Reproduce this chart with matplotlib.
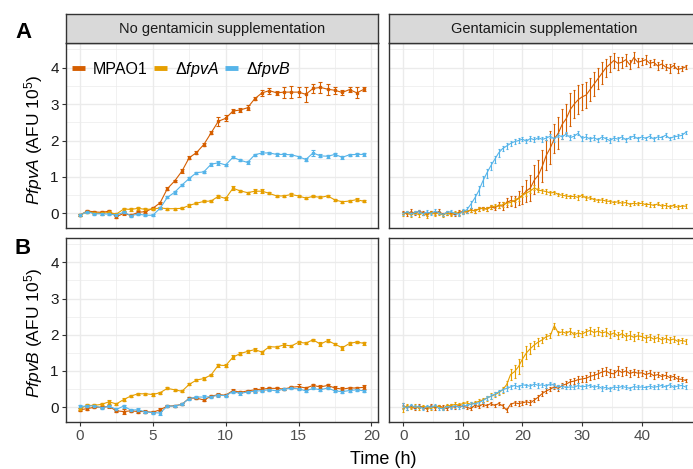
import numpy as np
import matplotlib.pyplot as plt
from matplotlib.lines import Line2D

plt.rcParams['font.family'] = ['Liberation Sans', 'DejaVu Sans']
plt.rcParams['mathtext.fontset'] = 'custom'
plt.rcParams['mathtext.rm'] = 'Liberation Sans'
plt.rcParams['mathtext.it'] = 'Liberation Sans:italic'

strains = ['MPAO1', 'fpvA', 'fpvB']
colors = {'MPAO1': '#D55E00', 'fpvA': '#E69F00', 'fpvB': '#56B4E9'}
labels = {'MPAO1': 'MPAO1', 'fpvA': r'$\mathit{ΔfpvA}$', 'fpvB': r'$\mathit{ΔfpvB}$'}

# time points (h)
time_nogent = np.arange(40) * 0.5        # every 30 min, 0 .. 19.5
time_gent = np.arange(72) * 40 / 60      # every 40 min, 0 .. 47.3

# ---- PfpvA, no gentamicin ----
pa_nogent = {
    'MPAO1': [-0.05, 0.07, 0.04, 0.03, 0.06, -0.09, 0.0, -0.05, 0.03, 0.05,
              0.14, 0.29, 0.68, 0.89, 1.16, 1.53, 1.67, 1.89, 2.21, 2.53,
              2.61, 2.81, 2.84, 2.9, 3.15, 3.31, 3.37, 3.31, 3.33, 3.33,
              3.33, 3.27, 3.43, 3.46, 3.41, 3.38, 3.32, 3.40, 3.31, 3.41],
    'fpvA': [-0.05, 0.05, 0.01, 0.0, 0.03, -0.02, 0.12, 0.11, 0.14, 0.11,
             0.12, 0.15, 0.13, 0.13, 0.14, 0.22, 0.28, 0.33, 0.34, 0.47,
             0.41, 0.69, 0.62, 0.57, 0.61, 0.61, 0.55, 0.48, 0.48, 0.52,
             0.48, 0.42, 0.47, 0.44, 0.48, 0.37, 0.32, 0.34, 0.38, 0.33],
    'fpvB': [-0.05, 0.05, -0.01, -0.01, -0.02, -0.04, 0.03, -0.06, -0.02, -0.05,
             -0.05, 0.14, 0.44, 0.58, 0.78, 0.96, 1.12, 1.14, 1.35, 1.39,
             1.33, 1.54, 1.46, 1.40, 1.61, 1.66, 1.66, 1.62, 1.62, 1.61,
             1.56, 1.48, 1.66, 1.58, 1.57, 1.62, 1.54, 1.61, 1.62, 1.62],
}
pa_nogent_err = {
    'MPAO1': [0.03, 0.03, 0.04, 0.03, 0.03, 0.03, 0.03, 0.03, 0.03, 0.03,
              0.03, 0.03, 0.05, 0.04, 0.05, 0.04, 0.04, 0.05, 0.04, 0.12,
              0.08, 0.06, 0.05, 0.07, 0.05, 0.08, 0.08, 0.05, 0.15, 0.16,
              0.14, 0.2, 0.12, 0.15, 0.15, 0.1, 0.08, 0.08, 0.15, 0.05],
    'fpvA': [0.03, 0.03, 0.03, 0.03, 0.03, 0.03, 0.04, 0.05, 0.04, 0.05,
             0.03, 0.03, 0.03, 0.03, 0.03, 0.04, 0.03, 0.03, 0.03, 0.04,
             0.04, 0.05, 0.03, 0.03, 0.06, 0.05, 0.03, 0.03, 0.03, 0.03,
             0.03, 0.03, 0.03, 0.03, 0.03, 0.03, 0.03, 0.03, 0.05, 0.03],
    'fpvB': [0.03, 0.03, 0.03, 0.03, 0.03, 0.03, 0.03, 0.03, 0.03, 0.03,
             0.03, 0.03, 0.03, 0.04, 0.03, 0.03, 0.03, 0.03, 0.04, 0.05,
             0.03, 0.03, 0.03, 0.05, 0.03, 0.04, 0.03, 0.03, 0.03, 0.03,
             0.03, 0.05, 0.08, 0.04, 0.04, 0.03, 0.04, 0.03, 0.03, 0.03],
}

# ---- PfpvA, gentamicin ----
pa_gent = {
    'MPAO1': [0.03, -0.02, 0.05, 0.0, 0.06, 0.02, -0.03, 0.04, 0.0, 0.05, -0.02, 0.02,
              0.0, -0.03, 0.03, 0.05, 0.04, 0.1, 0.07, 0.12, 0.15, 0.12, 0.18, 0.15,
              0.22, 0.2, 0.3, 0.35, 0.33, 0.42, 0.5, 0.62, 0.7, 0.92, 1.05, 1.3,
              1.6, 1.8, 2.05, 2.2, 2.45, 2.6, 2.85, 3.0, 3.12, 3.2, 3.25, 3.4,
              3.55, 3.7, 3.85, 4.0, 4.1, 4.2, 4.12, 4.15, 4.22, 4.08, 4.28, 4.15,
              4.18, 4.22, 4.12, 4.15, 4.05, 4.1, 4.02, 3.98, 4.06, 3.95, 3.98, 4.02],
    'fpvA': [-0.02, 0.03, -0.05, 0.02, -0.04, 0.01, -0.06, 0.03, -0.02, 0.02, -0.05, 0.01,
             -0.03, 0.02, 0.0, 0.04, 0.05, 0.09, 0.07, 0.12, 0.14, 0.12, 0.17, 0.2,
             0.2, 0.24, 0.28, 0.3, 0.36, 0.4, 0.5, 0.56, 0.62, 0.7, 0.64, 0.62,
             0.6, 0.56, 0.58, 0.52, 0.5, 0.48, 0.46, 0.47, 0.44, 0.5, 0.42, 0.43,
             0.38, 0.36, 0.37, 0.34, 0.33, 0.3, 0.32, 0.28, 0.3, 0.25, 0.28, 0.26,
             0.28, 0.24, 0.25, 0.22, 0.26, 0.2, 0.22, 0.18, 0.22, 0.17, 0.2, 0.2],
    'fpvB': [0.0, 0.04, -0.02, 0.03, 0.05, -0.01, 0.04, 0.0, 0.06, 0.02, -0.03, 0.03,
             0.05, 0.0, -0.02, 0.05, 0.1, 0.25, 0.42, 0.62, 0.88, 1.1, 1.3, 1.48,
             1.66, 1.78, 1.85, 1.92, 1.97, 2.0, 2.04, 1.98, 2.06, 2.02, 2.08, 2.03,
             2.07, 2.12, 2.04, 2.15, 2.1, 2.18, 2.08, 2.12, 2.2, 2.06, 2.1, 2.04,
             2.08, 2.02, 2.1, 2.05, 2.0, 2.07, 2.04, 2.1, 2.02, 2.08, 2.12, 2.05,
             2.1, 2.06, 2.12, 2.04, 2.1, 2.08, 2.15, 2.06, 2.1, 2.12, 2.14, 2.22],
}
pa_gent_err = {
    'MPAO1': [0.05, 0.04, 0.06, 0.05, 0.04, 0.06, 0.05, 0.04, 0.05, 0.06, 0.04, 0.05,
              0.05, 0.04, 0.06, 0.05, 0.04, 0.05, 0.06, 0.05, 0.04, 0.06, 0.05, 0.06,
              0.08, 0.1, 0.12, 0.14, 0.16, 0.2, 0.25, 0.3, 0.35, 0.4, 0.42, 0.45,
              0.42, 0.45, 0.4, 0.44, 0.42, 0.4, 0.45, 0.38, 0.4, 0.35, 0.36, 0.32,
              0.32, 0.28, 0.3, 0.25, 0.22, 0.2, 0.18, 0.15, 0.16, 0.12, 0.14, 0.12,
              0.1, 0.12, 0.1, 0.08, 0.12, 0.1, 0.09, 0.12, 0.08, 0.1, 0.08, 0.06],
    'fpvA': [0.05, 0.04, 0.06, 0.04, 0.05, 0.04, 0.06, 0.05, 0.04, 0.05, 0.06, 0.04,
             0.05, 0.04, 0.06, 0.05, 0.04, 0.05, 0.06, 0.05, 0.04, 0.05, 0.06, 0.05,
             0.05, 0.06, 0.05, 0.07, 0.06, 0.07, 0.06, 0.07, 0.06, 0.07, 0.06, 0.05,
             0.06, 0.05, 0.04, 0.05, 0.06, 0.05, 0.04, 0.05, 0.06, 0.04, 0.05, 0.04,
             0.05, 0.04, 0.05, 0.06, 0.04, 0.05, 0.04, 0.05, 0.06, 0.04, 0.05, 0.04,
             0.05, 0.04, 0.06, 0.05, 0.04, 0.05, 0.06, 0.04, 0.05, 0.06, 0.04, 0.05],
    'fpvB': [0.05, 0.04, 0.05, 0.04, 0.05, 0.04, 0.05, 0.04, 0.05, 0.04, 0.05, 0.04,
             0.05, 0.04, 0.05, 0.06, 0.08, 0.1, 0.12, 0.12, 0.14, 0.12, 0.12, 0.1,
             0.1, 0.08, 0.08, 0.07, 0.06, 0.07, 0.06, 0.05, 0.06, 0.07, 0.05, 0.06,
             0.05, 0.06, 0.07, 0.05, 0.06, 0.05, 0.07, 0.06, 0.05, 0.06, 0.07, 0.05,
             0.06, 0.05, 0.06, 0.05, 0.06, 0.05, 0.06, 0.05, 0.06, 0.05, 0.06, 0.05,
             0.06, 0.05, 0.06, 0.05, 0.06, 0.05, 0.06, 0.05, 0.06, 0.05, 0.06, 0.05],
}

# ---- PfpvB, no gentamicin ----
pb_nogent = {
    'MPAO1': [-0.07, -0.04, 0.0, 0.0, 0.02, -0.1, -0.12, -0.1, -0.12, -0.12,
              -0.14, -0.07, 0.03, 0.04, 0.08, 0.25, 0.25, 0.2, 0.3, 0.35,
              0.33, 0.46, 0.41, 0.45, 0.48, 0.5, 0.52, 0.52, 0.5, 0.55,
              0.57, 0.53, 0.6, 0.56, 0.6, 0.53, 0.5, 0.53, 0.53, 0.55],
    'fpvA': [-0.04, 0.05, 0.05, 0.08, 0.15, 0.09, 0.21, 0.31, 0.37, 0.37,
             0.35, 0.40, 0.52, 0.48, 0.44, 0.63, 0.75, 0.79, 0.89, 1.16,
             1.15, 1.38, 1.48, 1.54, 1.59, 1.52, 1.67, 1.66, 1.72, 1.69,
             1.79, 1.77, 1.86, 1.74, 1.84, 1.74, 1.64, 1.76, 1.80, 1.76],
    'fpvB': [0.02, 0.03, 0.04, -0.02, 0.03, -0.06, 0.03, -0.08, -0.07, -0.13,
             -0.15, -0.16, 0.03, 0.03, 0.08, 0.24, 0.28, 0.28, 0.29, 0.33,
             0.32, 0.43, 0.38, 0.42, 0.44, 0.46, 0.48, 0.45, 0.5, 0.52,
             0.51, 0.45, 0.52, 0.48, 0.53, 0.45, 0.43, 0.46, 0.48, 0.45],
}
pb_nogent_err = {
    'MPAO1': [0.04, 0.05, 0.03, 0.03, 0.03, 0.03, 0.06, 0.03, 0.03, 0.03,
              0.03, 0.04, 0.03, 0.03, 0.03, 0.03, 0.03, 0.03, 0.03, 0.03,
              0.03, 0.04, 0.03, 0.03, 0.05, 0.05, 0.04, 0.04, 0.03, 0.03,
              0.06, 0.03, 0.05, 0.05, 0.05, 0.05, 0.06, 0.04, 0.03, 0.05],
    'fpvA': [0.03, 0.03, 0.03, 0.03, 0.05, 0.03, 0.04, 0.03, 0.03, 0.03,
             0.05, 0.03, 0.03, 0.03, 0.03, 0.03, 0.03, 0.03, 0.03, 0.04,
             0.05, 0.05, 0.03, 0.04, 0.05, 0.04, 0.03, 0.03, 0.05, 0.04,
             0.04, 0.03, 0.03, 0.05, 0.03, 0.03, 0.05, 0.03, 0.04, 0.03],
    'fpvB': [0.05, 0.03, 0.03, 0.03, 0.03, 0.04, 0.04, 0.03, 0.05, 0.03,
             0.03, 0.06, 0.03, 0.03, 0.03, 0.03, 0.04, 0.05, 0.03, 0.04,
             0.04, 0.03, 0.03, 0.03, 0.04, 0.03, 0.03, 0.03, 0.03, 0.03,
             0.03, 0.03, 0.03, 0.04, 0.04, 0.03, 0.05, 0.04, 0.03, 0.03],
}

# ---- PfpvB, gentamicin ----
pb_gent = {
    'MPAO1': [0.05, -0.02, 0.02, -0.04, 0.03, 0.0, -0.05, 0.04, -0.02, 0.03, 0.0, -0.04,
              0.03, 0.0, 0.05, 0.02, 0.0, -0.04, 0.05, 0.02, 0.08, 0.04, 0.1, 0.05,
              0.1, 0.04, -0.08, 0.08, 0.12, 0.1, 0.12, 0.15, 0.12, 0.2, 0.28, 0.38,
              0.45, 0.5, 0.56, 0.52, 0.6, 0.64, 0.7, 0.72, 0.76, 0.78, 0.8, 0.85,
              0.88, 0.92, 0.97, 1.0, 0.94, 0.92, 1.02, 0.96, 1.0, 0.93, 0.97, 0.94,
              0.95, 0.9, 0.94, 0.87, 0.9, 0.85, 0.88, 0.82, 0.85, 0.78, 0.77, 0.74],
    'fpvA': [-0.06, 0.05, -0.01, 0.03, -0.03, 0.02, 0.0, -0.04, 0.03, 0.02, -0.04, 0.05,
             0.04, 0.08, 0.06, 0.1, 0.12, 0.08, 0.12, 0.16, 0.2, 0.25, 0.3, 0.34,
             0.4, 0.48, 0.62, 0.9, 0.98, 1.12, 1.33, 1.5, 1.62, 1.72, 1.8, 1.86,
             1.95, 1.98, 2.25, 2.05, 2.08, 2.04, 2.1, 2.0, 2.05, 2.02, 2.08, 2.12,
             2.06, 2.1, 2.05, 2.08, 2.0, 2.05, 1.97, 2.03, 1.95, 1.98, 1.93, 1.97,
             1.95, 1.9, 1.94, 1.88, 1.92, 1.86, 1.9, 1.85, 1.88, 1.82, 1.84, 1.82],
    'fpvB': [0.04, -0.03, 0.05, 0.0, 0.02, -0.04, 0.02, 0.0, 0.04, -0.03, -0.04, 0.02,
             0.0, 0.04, 0.0, 0.03, 0.05, 0.08, 0.1, 0.12, 0.18, 0.25, 0.3, 0.36,
             0.42, 0.48, 0.52, 0.56, 0.6, 0.56, 0.62, 0.6, 0.58, 0.64, 0.6, 0.62,
             0.58, 0.65, 0.6, 0.56, 0.58, 0.54, 0.56, 0.55, 0.6, 0.56, 0.58, 0.6,
             0.55, 0.58, 0.52, 0.55, 0.5, 0.56, 0.54, 0.57, 0.55, 0.52, 0.57, 0.55,
             0.56, 0.54, 0.58, 0.55, 0.57, 0.6, 0.56, 0.62, 0.55, 0.58, 0.6, 0.56],
}
pb_gent_err = {
    'MPAO1': [0.06, 0.05, 0.04, 0.05, 0.06, 0.04, 0.05, 0.04, 0.05, 0.04, 0.05, 0.04,
              0.05, 0.04, 0.05, 0.04, 0.05, 0.04, 0.05, 0.04, 0.05, 0.04, 0.05, 0.04,
              0.05, 0.06, 0.05, 0.04, 0.05, 0.06, 0.05, 0.06, 0.07, 0.06, 0.07, 0.06,
              0.07, 0.06, 0.07, 0.08, 0.07, 0.08, 0.09, 0.08, 0.1, 0.09, 0.1, 0.11,
              0.1, 0.12, 0.1, 0.12, 0.11, 0.1, 0.12, 0.1, 0.11, 0.1, 0.09, 0.1,
              0.09, 0.1, 0.08, 0.09, 0.08, 0.07, 0.08, 0.07, 0.06, 0.07, 0.05, 0.04],
    'fpvA': [0.08, 0.05, 0.04, 0.05, 0.04, 0.05, 0.04, 0.05, 0.04, 0.05, 0.04, 0.05,
             0.04, 0.05, 0.06, 0.05, 0.06, 0.05, 0.06, 0.07, 0.06, 0.07, 0.08, 0.07,
             0.06, 0.08, 0.1, 0.15, 0.18, 0.2, 0.2, 0.18, 0.15, 0.12, 0.1, 0.08,
             0.07, 0.06, 0.08, 0.06, 0.07, 0.06, 0.08, 0.07, 0.08, 0.09, 0.08, 0.1,
             0.09, 0.1, 0.09, 0.11, 0.1, 0.09, 0.1, 0.09, 0.1, 0.11, 0.09, 0.1,
             0.09, 0.1, 0.08, 0.09, 0.1, 0.08, 0.09, 0.08, 0.09, 0.07, 0.08, 0.07],
    'fpvB': [0.08, 0.05, 0.04, 0.05, 0.04, 0.05, 0.04, 0.05, 0.04, 0.05, 0.04, 0.05,
             0.04, 0.05, 0.04, 0.05, 0.04, 0.05, 0.04, 0.05, 0.06, 0.05, 0.06, 0.05,
             0.06, 0.05, 0.06, 0.05, 0.06, 0.05, 0.06, 0.05, 0.06, 0.05, 0.06, 0.05,
             0.06, 0.05, 0.06, 0.05, 0.06, 0.05, 0.06, 0.05, 0.06, 0.05, 0.06, 0.05,
             0.06, 0.05, 0.06, 0.05, 0.06, 0.05, 0.06, 0.05, 0.06, 0.05, 0.06, 0.05,
             0.06, 0.05, 0.06, 0.05, 0.06, 0.05, 0.06, 0.05, 0.06, 0.05, 0.06, 0.05],
}

W, H = 693, 469
fig = plt.figure(figsize=(W / 100, H / 100), dpi=100)


def box(x0, y0, x1, y1):
    # pixel box (top-left origin) -> figure fraction rect
    return [x0 / W, 1 - y1 / H, (x1 - x0) / W, (y1 - y0) / H]


ax_tl = fig.add_axes(box(65.7, 43.3, 378.3, 228))
ax_tr = fig.add_axes(box(389, 43.3, 700.7, 228))
ax_bl = fig.add_axes(box(65.7, 238, 378.3, 421.7))
ax_br = fig.add_axes(box(389, 238, 700.7, 421.7))

panels = [
    (ax_tl, time_nogent, pa_nogent, pa_nogent_err, True),
    (ax_tr, time_gent, pa_gent, pa_gent_err, False),
    (ax_bl, time_nogent, pb_nogent, pb_nogent_err, True),
    (ax_br, time_gent, pb_gent, pb_gent_err, False),
]

for ax, t, vals, errs, short in panels:
    for s in strains:
        ax.errorbar(t, vals[s], yerr=errs[s], color=colors[s], lw=0.8,
                    elinewidth=0.8, capsize=1.6 if short else 1.0,
                    capthick=0.8, marker='s' if short else None,
                    markersize=2 if short else 0, zorder=3)
    ax.set_facecolor('white')
    ax.grid(True, which='major', color='#EBEBEB', lw=1.0, zorder=0)
    ax.grid(True, which='minor', color='#EBEBEB', lw=0.5, zorder=0)
    ax.set_axisbelow(True)
    for sp in ax.spines.values():
        sp.set_color('#333333')
        sp.set_linewidth(1.0)
    ax.set_ylim(-0.40, 4.67)
    ax.set_yticks([0, 1, 2, 3, 4])
    ax.set_yticks(np.arange(0.5, 4.6, 1), minor=True)
    if short:
        ax.set_xlim(-0.975, 20.475)
        ax.set_xticks([0, 5, 10, 15, 20])
        ax.set_xticks([2.5, 7.5, 12.5, 17.5], minor=True)
    else:
        ax.set_xlim(-2.375, 49.875)
        ax.set_xticks([0, 10, 20, 30, 40])
        ax.set_xticks([5, 15, 25, 35, 45], minor=True)
    ax.tick_params(which='minor', length=0)
    ax.tick_params(which='major', length=3, width=0.8, color='#333333')
    ax.tick_params(axis='x', labelsize=11, labelcolor='#4D4D4D', pad=2)
    ax.tick_params(axis='y', labelsize=11, labelcolor='#1A1A1A', pad=2)

for ax in (ax_tl, ax_tr):
    ax.tick_params(axis='x', which='both', bottom=False, labelbottom=False)
for ax in (ax_tr, ax_br):
    ax.tick_params(axis='y', which='both', left=False, labelleft=False)

# facet strips
for ax, title, cx in ((ax_tl, 'No gentamicin supplementation', 0.5),
                      (ax_tr, 'Gentamicin supplementation', (544 - 389) / (700.7 - 389))):
    pos = ax.get_position()
    strip = fig.add_axes([pos.x0, 1 - 43.3 / H, pos.width, 29.3 / H])
    strip.set_facecolor('#D9D9D9')
    strip.set_xticks([])
    strip.set_yticks([])
    for sp in strip.spines.values():
        sp.set_color('#333333')
        sp.set_linewidth(1.0)
    strip.text(cx, 0.5, title, ha='center', va='center', fontsize=10.5,
               color='#1A1A1A', transform=strip.transAxes)

# axis labels
fig.text(34 / W, 1 - 140 / H, r'$\mathit{PfpvA}$ (AFU 10$^{5}$)',
         rotation=90, ha='center', va='center', fontsize=12.5)
fig.text(34 / W, 1 - 333 / H, r'$\mathit{PfpvB}$ (AFU 10$^{5}$)',
         rotation=90, ha='center', va='center', fontsize=12.5)
fig.text(383 / W, 1 - 459 / H, 'Time (h)', ha='center', va='center',
         fontsize=13)

# panel letters
fig.text(23 / W, 1 - 32 / H, 'A', ha='center', va='center', fontsize=16,
         fontweight='bold')
fig.text(23 / W, 1 - 248 / H, 'B', ha='center', va='center', fontsize=16,
         fontweight='bold')

# legend inside top-left panel
handles = [Line2D([0], [0], color=colors[s], lw=3.5, solid_capstyle='butt')
           for s in strains]
ax_tl.legend(handles, [labels[s] for s in strains], loc='upper left',
             bbox_to_anchor=(-0.016, 0.97), ncol=3, frameon=False,
             fontsize=11.5, handlelength=0.8, handletextpad=0.5,
             columnspacing=0.4, borderaxespad=0.3)

fig.savefig('out.png', dpi=100)
